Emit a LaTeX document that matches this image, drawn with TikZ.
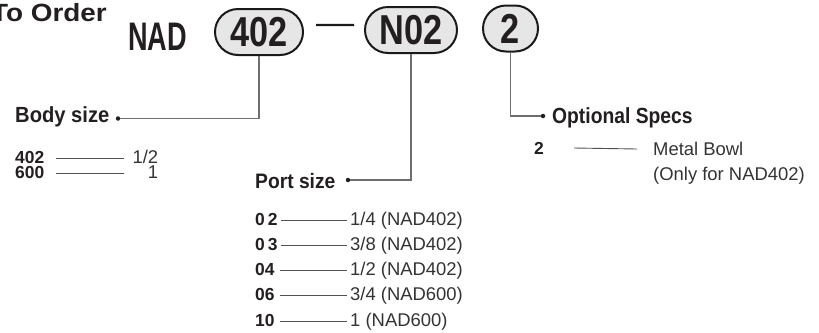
\documentclass[tikz,border=0pt]{standalone}
\usepackage{fontspec}
\setmainfont{Liberation Sans}
\usetikzlibrary{shapes.misc}
\definecolor{pillFillColor}{HTML}{E6E6E6}
\definecolor{pillDrawColor}{HTML}{1A1A1A}
\definecolor{dashColor}{HTML}{1A1A1A}
\definecolor{linkColor}{HTML}{6E6E6E}
\definecolor{ruleColor}{HTML}{505050}
\definecolor{headTextColor}{HTML}{231F20}
\definecolor{valueTextColor}{HTML}{333333}
\def\textTitle{\scalebox{1.12}[1]{To Order}}
\def\textModel{\scalebox{0.68}[1]{NAD}}
\def\textBody{\scalebox{0.82}[1]{402}}
\def\textPort{\scalebox{0.82}[1]{N02}}
\def\textOption{\scalebox{0.82}[1]{2}}

\begin{document}
\begin{tikzpicture}[x=1bp,y=-1bp,
  pill/.style={rounded rectangle, draw=pillDrawColor, line width=2bp,
    fill=pillFillColor, minimum height=46bp, inner xsep=0pt, inner ysep=0pt,
    text=headTextColor, font=\fontsize{42}{42}\selectfont\bfseries},
  headText/.style={anchor=base west, inner sep=0pt, text=headTextColor,
    font=\fontsize{21}{24}\selectfont\bfseries},
  codeText/.style={anchor=base west, inner sep=0pt, text=headTextColor,
    font=\fontsize{17.5}{25}\selectfont\bfseries},
  valueText/.style={anchor=base west, inner sep=0pt, text=valueTextColor,
    font=\fontsize{18.5}{25}\selectfont},
  dot/.style={circle, inner sep=0pt, minimum size=4.5bp, fill=headTextColor},
  link/.style={draw=linkColor, line width=1.4bp},
  rule/.style={draw=ruleColor, line width=0.9bp}]

\useasboundingbox (0, 0) rectangle (819, 332);

% title layer
\begin{scope}
\clip (0, 0) rectangle (819, 332);
\node[inner sep=0pt, anchor=base east, text=headTextColor,
font=\fontsize{25}{25}\selectfont\bfseries] (title) at (107, 21) {\textTitle};
\end{scope}

% code layer
\begin{scope}
\node[inner sep=0pt, anchor=base west, text=headTextColor,
font=\fontsize{40}{40}\selectfont\bfseries] (model) at (128, 50) {\textModel};
\node[pill, minimum width=88bp] (bodyPill) at (259, 32) {\textBody};
\node[pill, minimum width=92bp] (portPill) at (411, 30) {\textPort};
\node[pill, minimum width=55bp] (optionPill) at (510.5, 28.5) {\textOption};
\draw[draw=dashColor, line width=2.4bp]
([shift={(12bp,7bp)}]bodyPill.east) -- ([shift={(-10bp,5bp)}]portPill.west);
\end{scope}

% heading layer
\begin{scope}
\node[headText, font=\fontsize{22}{24}\selectfont\bfseries] (bodyHead) at (15, 122) {\scalebox{0.92}[1]{Body size}};
\node[headText] (portHead) at (255, 188) {\scalebox{0.92}[1]{Port size}};
\node[headText, font=\fontsize{22}{24}\selectfont\bfseries] (optionHead) at (552, 123) {\scalebox{0.88}[1]{Optional Specs}};
\node[dot] (bodyDot) at (118, 118.5) {};
\node[dot] (portDot) at (348, 180) {};
\node[dot] (optionDot) at (543, 116) {};
\end{scope}

% link layer
\begin{scope}
\draw[link] (bodyPill.south) |- (bodyDot);
\draw[link] (portPill.south) |- (portDot);
\draw[link] (optionPill.south) |- (optionDot);
\end{scope}

% body size table
\begin{scope}
\node[codeText] (bodyCodeA) at (15, 163) {402};
\node[codeText] (bodyCodeB) at (15, 178) {600};
\node[valueText, text width=30bp, align=right] (bodyValA) at (128, 163) {1/2};
\node[valueText, text width=30bp, align=right] (bodyValB) at (128, 178) {1};
\draw[rule] ([shift={(12bp,5bp)}]bodyCodeA.base east) -- ([shift={(-4bp,5bp)}]bodyValA.base west);
\draw[rule] ([shift={(12bp,5bp)}]bodyCodeB.base east) -- ([shift={(-4bp,5bp)}]bodyValB.base west);
\end{scope}

% port size table
\begin{scope}
\node[codeText] (portCodeA) at (255, 225) {0\,2};
\node[codeText] (portCodeB) at (255, 250) {0\,3};
\node[codeText] (portCodeC) at (255, 275) {04};
\node[codeText] (portCodeD) at (255, 300) {06};
\node[codeText] (portCodeE) at (255, 326) {10};
\node[valueText] (portValA) at (350, 225) {1/4 (NAD402)};
\node[valueText] (portValB) at (350, 250) {3/8 (NAD402)};
\node[valueText] (portValC) at (350, 275) {1/2 (NAD402)};
\node[valueText] (portValD) at (350, 300) {3/4 (NAD600)};
\node[valueText] (portValE) at (350, 326) {1 (NAD600)};
\draw[rule] ([shift={(3bp,4.5bp)}]portCodeA.base east) -- ([shift={(-3bp,4.5bp)}]portValA.base west);
\draw[rule] ([shift={(3bp,4.5bp)}]portCodeB.base east) -- ([shift={(-3bp,4.5bp)}]portValB.base west);
\draw[rule] ([shift={(5bp,4.5bp)}]portCodeC.base east) -- ([shift={(-3bp,4.5bp)}]portValC.base west);
\draw[rule] ([shift={(5bp,4.5bp)}]portCodeD.base east) -- ([shift={(-3bp,4.5bp)}]portValD.base west);
\draw[rule] ([shift={(5bp,4.5bp)}]portCodeE.base east) -- ([shift={(-3bp,4.5bp)}]portValE.base west);
\end{scope}

% optional specs table
\begin{scope}
\node[codeText] (optionCode) at (534, 154) {2};
\node[valueText, align=left] (optionVal) at (653, 180) {Metal Bowl\\(Only for NAD402)};
\draw[rule] ([shift={(30bp,6bp)}]optionCode.base east) -- ([shift={(-16bp,31bp)}]optionVal.base west);
\end{scope}

\end{tikzpicture}
\end{document}
